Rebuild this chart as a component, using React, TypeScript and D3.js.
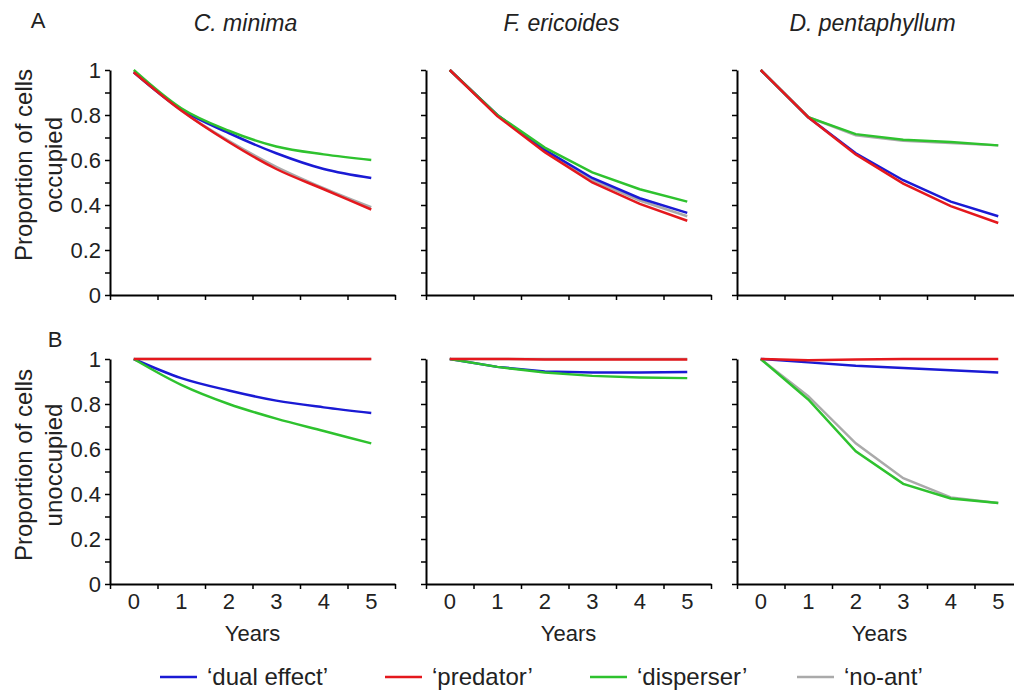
import * as d3 from "d3";
import { useEffect, useRef } from "react";

// years along the x axis and the panel titles
const years = [0, 1, 2, 3, 4, 5];
const species = ["C. minima", "F. ericoides", "D. pentaphyllum"];
const yTicks = [0, 0.1, 0.2, 0.3, 0.4, 0.5, 0.6, 0.7, 0.8, 0.9, 1];
const yTickLabels = [0, 0.2, 0.4, 0.6, 0.8, 1];
const rowLetters = ["A", "B"];
const rowTitles = [
  ["Proportion of cells", "occupied"],
  ["Proportion of cells", "unoccupied"],
];

// legend
const seriesNames = ["\u2018dual effect\u2019", "\u2018predator\u2019", "\u2018disperser\u2019", "\u2018no-ant\u2019"];
const seriesColors = ["#1a1ad4", "#e4181d", "#2ec22e", "#aaaaaa"];

// row A: proportion of cells occupied (one array per species)
const occupiedDual = [
  [0.99, 0.825, 0.72, 0.63, 0.56, 0.52],
  [1.0, 0.8, 0.645, 0.52, 0.43, 0.365],
  [1.0, 0.79, 0.63, 0.51, 0.415, 0.35],
];
const occupiedPredator = [
  [0.99, 0.82, 0.68, 0.56, 0.47, 0.38],
  [1.0, 0.795, 0.635, 0.5, 0.405, 0.33],
  [1.0, 0.79, 0.625, 0.495, 0.395, 0.32],
];
const occupiedDisperser = [
  [1.0, 0.83, 0.73, 0.66, 0.625, 0.6],
  [1.0, 0.8, 0.655, 0.545, 0.47, 0.415],
  [1.0, 0.79, 0.715, 0.69, 0.68, 0.665],
];
const occupiedNoAnt = [
  [0.99, 0.82, 0.685, 0.57, 0.475, 0.39],
  [1.0, 0.8, 0.64, 0.51, 0.42, 0.35],
  [1.0, 0.79, 0.71, 0.685, 0.675, 0.665],
];

// row B: proportion of cells unoccupied
const unoccupiedDual = [
  [1.0, 0.915, 0.86, 0.815, 0.785, 0.76],
  [1.0, 0.965, 0.945, 0.94, 0.94, 0.942],
  [1.0, 0.985, 0.97, 0.96, 0.95, 0.94],
];
const unoccupiedPredator = [
  [1.0, 1.0, 1.0, 1.0, 1.0, 1.0],
  [1.0, 1.0, 0.998, 0.998, 0.998, 0.998],
  [1.0, 0.995, 0.998, 1.0, 1.0, 1.0],
];
const unoccupiedDisperser = [
  [1.0, 0.885, 0.8, 0.735, 0.68, 0.625],
  [1.0, 0.965, 0.94, 0.925, 0.918, 0.915],
  [1.0, 0.82, 0.59, 0.445, 0.38, 0.36],
];
const unoccupiedNoAnt = [
  [1.0, 1.0, 1.0, 1.0, 1.0, 1.0],
  [1.0, 1.0, 1.0, 1.0, 1.0, 1.0],
  [1.0, 0.835, 0.625, 0.47, 0.385, 0.36],
];

const rows = [
  [occupiedDual, occupiedPredator, occupiedDisperser, occupiedNoAnt],
  [unoccupiedDual, unoccupiedPredator, unoccupiedDisperser, unoccupiedNoAnt],
];

const FONT = "Liberation Sans, Arial, sans-serif";

const App = () => {
  const ref = useRef<SVGSVGElement>(null);

  useEffect(() => {
    const svg = d3.select(ref.current);
    svg.selectAll("*").remove();

    const panelLeft = [110, 426, 737];
    const panelWidth = 285;
    const rowTop = [70, 359];
    const panelHeight = 225;

    // column titles
    species.forEach((s, i) => {
      svg
        .append("text")
        .attr("x", panelLeft[i] + panelWidth / 2 - 7)
        .attr("y", 31)
        .attr("text-anchor", "middle")
        .attr("font-style", "italic")
        .attr("font-size", 23)
        .attr("font-family", FONT)
        .attr("fill", "#222")
        .text(s);
    });

    rows.forEach((row, r) => {
      const y = d3
        .scaleLinear()
        .domain([0, 1])
        .range([rowTop[r] + panelHeight, rowTop[r]]);

      // row letter
      svg
        .append("text")
        .attr("x", r === 0 ? 38 : 55)
        .attr("y", r === 0 ? 28 : 347)
        .attr("text-anchor", "middle")
        .attr("font-size", 22)
        .attr("font-family", FONT)
        .attr("fill", "#222")
        .text(rowLetters[r]);

      // y title, two lines
      const ty = r === 0 ? 165 : 465;
      rowTitles[r].forEach((line, k) => {
        svg
          .append("text")
          .attr("transform", `translate(${k === 0 ? 32 : 62},${ty}) rotate(-90)`)
          .attr("text-anchor", "middle")
          .attr("font-size", 24)
          .attr("font-family", FONT)
          .attr("fill", "#222")
          .text(line);
      });

      species.forEach((_, c) => {
        const x = d3
          .scaleLinear()
          .domain([-0.5, 5.5])
          .range([panelLeft[c], panelLeft[c] + panelWidth]);
        const g = svg.append("g");

        // y axis
        const yAxis = g
          .append("g")
          .attr("transform", `translate(${panelLeft[c]},0)`)
          .call(
            d3
              .axisLeft(y)
              .tickValues(yTicks)
              .tickSize(5)
              .tickSizeOuter(0)
              .tickFormat(() => "")
          );
        yAxis.select(".domain").attr("stroke-width", 2);
        yAxis.selectAll(".tick line").attr("stroke-width", 1.5);

        if (c === 0) {
          yTickLabels.forEach((v) => {
            g.append("text")
              .attr("x", panelLeft[c] - 9)
              .attr("y", y(v) + 8)
              .attr("text-anchor", "end")
              .attr("font-size", 22)
              .attr("font-family", FONT)
              .attr("fill", "#222")
              .text(String(v));
          });
        }

        // x axis
        const xAxis = g
          .append("g")
          .attr("transform", `translate(0,${rowTop[r] + panelHeight})`)
          .call(
            d3
              .axisBottom(x)
              .tickValues(d3.range(-0.5, 6, 1))
              .tickSize(5)
              .tickSizeOuter(0)
              .tickFormat(() => "")
          );
        xAxis.select(".domain").attr("stroke-width", 2);
        xAxis.selectAll(".tick line").attr("stroke-width", 1.5);

        if (r === 1) {
          years.forEach((yr) => {
            g.append("text")
              .attr("x", x(yr))
              .attr("y", rowTop[r] + panelHeight + 25)
              .attr("text-anchor", "middle")
              .attr("font-size", 22)
              .attr("font-family", FONT)
              .attr("fill", "#222")
              .text(String(yr));
          });
          g.append("text")
            .attr("x", x(2.5))
            .attr("y", rowTop[r] + panelHeight + 57)
            .attr("text-anchor", "middle")
            .attr("font-size", 22)
            .attr("font-family", FONT)
            .attr("fill", "#222")
            .text("Years");
        }

        const line = d3
          .line<number>()
          .x((_, i) => x(years[i]))
          .y((d) => y(d))
          .curve(c === 0 ? d3.curveMonotoneX : d3.curveLinear);

        // draw order: no-ant, dual, disperser, predator
        [3, 0, 2, 1].forEach((s) => {
          g.append("path")
            .datum(row[s][c])
            .attr("d", line)
            .attr("fill", "none")
            .attr("stroke", seriesColors[s])
            .attr("stroke-width", 2.5);
        });
      });
    });

    // legend
    const legendX = [160, 385, 590, 797];
    seriesNames.forEach((name, i) => {
      svg
        .append("line")
        .attr("x1", legendX[i])
        .attr("x2", legendX[i] + 37)
        .attr("y1", 677)
        .attr("y2", 677)
        .attr("stroke", seriesColors[i])
        .attr("stroke-width", 2.5);
      svg
        .append("text")
        .attr("x", legendX[i] + 47)
        .attr("y", 685)
        .attr("font-size", 24)
        .attr("font-family", FONT)
        .attr("fill", "#222")
        .text(name);
    });
  }, []);

  return (
    <svg
      ref={ref}
      width={1014}
      height={691}
      style={{ position: "absolute", left: 0, top: 0, background: "#fff" }}
    />
  );
};

export default App;
